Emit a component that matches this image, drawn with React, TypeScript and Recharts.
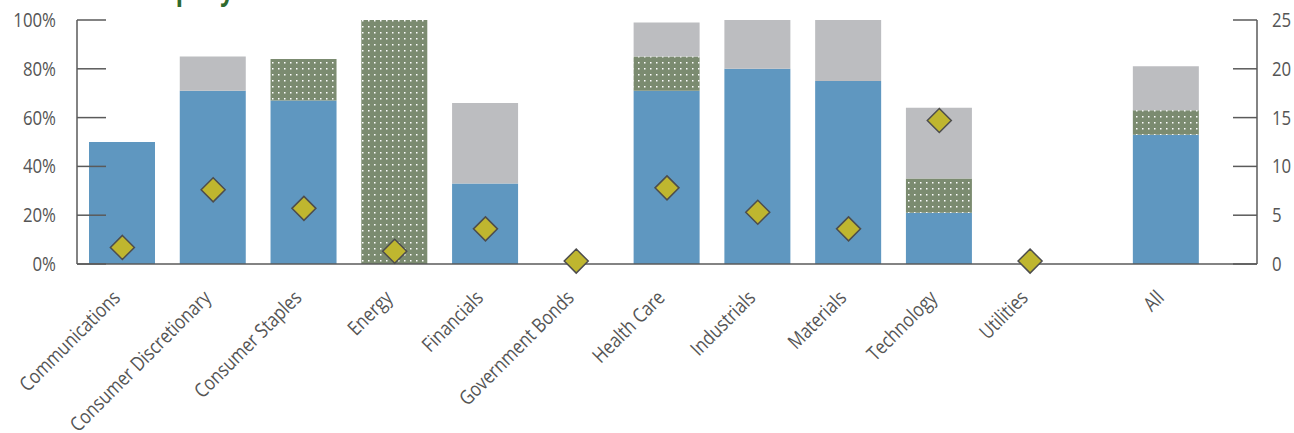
import { Bar, ComposedChart, Scatter, XAxis, YAxis } from 'recharts';

const categories = [
  'Communications',
  'Consumer Discretionary',
  'Consumer Staples',
  'Energy',
  'Financials',
  'Government Bonds',
  'Health Care',
  'Industrials',
  'Materials',
  'Technology',
  'Utilities',
  'All',
];
const bluePct = [50, 71, 67, 0, 33, 0, 71, 80, 75, 21, 0, 53];
const dottedPct = [0, 0, 17, 100, 0, 0, 14, 0, 0, 14, 0, 10];
const greyPct = [0, 14, 0, 0, 33, 0, 14, 20, 25, 29, 0, 18];
const companyCounts = [1.7, 7.6, 5.7, 1.3, 3.6, 0.3, 7.8, 5.3, 3.6, 14.7, 0.3, null];
const pctTicks = [0, 20, 40, 60, 80, 100];
const countTicks = [0, 5, 10, 15, 20, 25];

// "All" sits half a slot further out than the sectors
const rows = categories.map((name, i) => ({
  pos: i === categories.length - 1 ? i + 0.5 : i,
  name,
  blue: bluePct[i],
  dotted: dottedPct[i],
  grey: greyPct[i],
  companies: companyCounts[i],
}));

// no condensed face installed, so squeeze Open Sans a bit
const FONT = "'Open Sans', 'Liberation Sans', sans-serif";
const SQUEEZE = 0.84;
const AXIS = '#5a5a5a';
const TEXT = '#555555';

function XTick({ x, y, payload }: any) {
  const row = rows.find((r) => r.pos === payload.value);
  const tx = x - 1;
  const ty = y + 35;
  return (
    <text
      transform={`translate(${tx}, ${ty}) rotate(-45) scale(${SQUEEZE}, 1)`}
      textAnchor="end"
      fill={TEXT}
      fontSize={20}
      fontFamily={FONT}
    >
      {row ? row.name : ''}
    </text>
  );
}

function LeftTick({ x, y, payload }: any) {
  const ax = x + 21;
  return (
    <g>
      <line x1={ax} x2={ax + 29} y1={y} y2={y} stroke={AXIS} strokeWidth={1.5} />
      <text
        transform={`translate(${x}, ${y + 7}) scale(${SQUEEZE}, 1)`}
        textAnchor="end"
        fill={TEXT}
        fontSize={20}
        fontFamily={FONT}
      >
        {`${payload.value}%`}
      </text>
    </g>
  );
}

function RightTick({ x, y, payload }: any) {
  const ax = x - 15;
  return (
    <g>
      <line x1={ax - 24} x2={ax} y1={y} y2={y} stroke={AXIS} strokeWidth={1.5} />
      <text
        transform={`translate(${x}, ${y + 7}) scale(${SQUEEZE}, 1)`}
        textAnchor="start"
        fill={TEXT}
        fontSize={20}
        fontFamily={FONT}
      >
        {payload.value}
      </text>
    </g>
  );
}

function Diamond({ cx, cy }: any) {
  const r = 12;
  return (
    <polygon
      points={`${cx},${cy - r} ${cx + r},${cy} ${cx},${cy + r} ${cx - r},${cy}`}
      fill="#bfb62f"
      stroke="#4d4d4d"
      strokeWidth={1.5}
    />
  );
}

export default function App() {
  return (
    <div style={{ position: 'absolute', left: 0, top: 0, width: 1294, height: 433, overflow: 'hidden' }}>
      <div
        style={{
          position: 'absolute',
          left: 123,
          top: -26,
          fontSize: 28,
          lineHeight: '30px',
          fontWeight: 'bold',
          fontFamily: FONT,
          color: '#2e6a2e',
          whiteSpace: 'nowrap',
          transform: `scaleX(${SQUEEZE})`,
          transformOrigin: 'left top',
        }}
      >
        Company
      </div>
      <ComposedChart width={1294} height={433} data={rows} margin={{ top: 20, right: 0, bottom: 0, left: 0 }}>
        <defs>
          <pattern id="dots" width="6" height="6" patternUnits="userSpaceOnUse">
            <rect width="6" height="6" fill="#7b8b70" />
            <rect x="2" y="2" width="1.5" height="1.5" fill="#ffffff" />
          </pattern>
        </defs>
        <XAxis
          type="number"
          dataKey="pos"
          domain={[-0.5, 12.5]}
          ticks={rows.map((r) => r.pos)}
          interval={0}
          tick={<XTick />}
          tickLine={false}
          tickSize={0}
          tickMargin={0}
          axisLine={{ stroke: AXIS, strokeWidth: 1.5 }}
          height={169}
          allowDataOverflow
        />
        <YAxis
          yAxisId="left"
          domain={[0, 100]}
          ticks={pctTicks}
          interval={0}
          width={77}
          tick={<LeftTick />}
          tickLine={false}
          tickSize={0}
          tickMargin={21}
          axisLine={{ stroke: AXIS, strokeWidth: 1.5 }}
        />
        <YAxis
          yAxisId="right"
          orientation="right"
          domain={[0, 25]}
          ticks={countTicks}
          interval={0}
          width={37}
          tick={<RightTick />}
          tickLine={false}
          tickSize={0}
          tickMargin={15}
          axisLine={{ stroke: AXIS, strokeWidth: 1.5 }}
        />
        <Bar yAxisId="left" dataKey="blue" stackId="s" fill="#5f97c0" barSize={66} isAnimationActive={false} />
        <Bar yAxisId="left" dataKey="dotted" stackId="s" fill="url(#dots)" barSize={66} isAnimationActive={false} />
        <Bar yAxisId="left" dataKey="grey" stackId="s" fill="#bcbdc0" barSize={66} isAnimationActive={false} />
        <Scatter
          yAxisId="right"
          data={rows.filter((r) => r.companies != null)}
          dataKey="companies"
          shape={<Diamond />}
          isAnimationActive={false}
        />
      </ComposedChart>
    </div>
  );
}
